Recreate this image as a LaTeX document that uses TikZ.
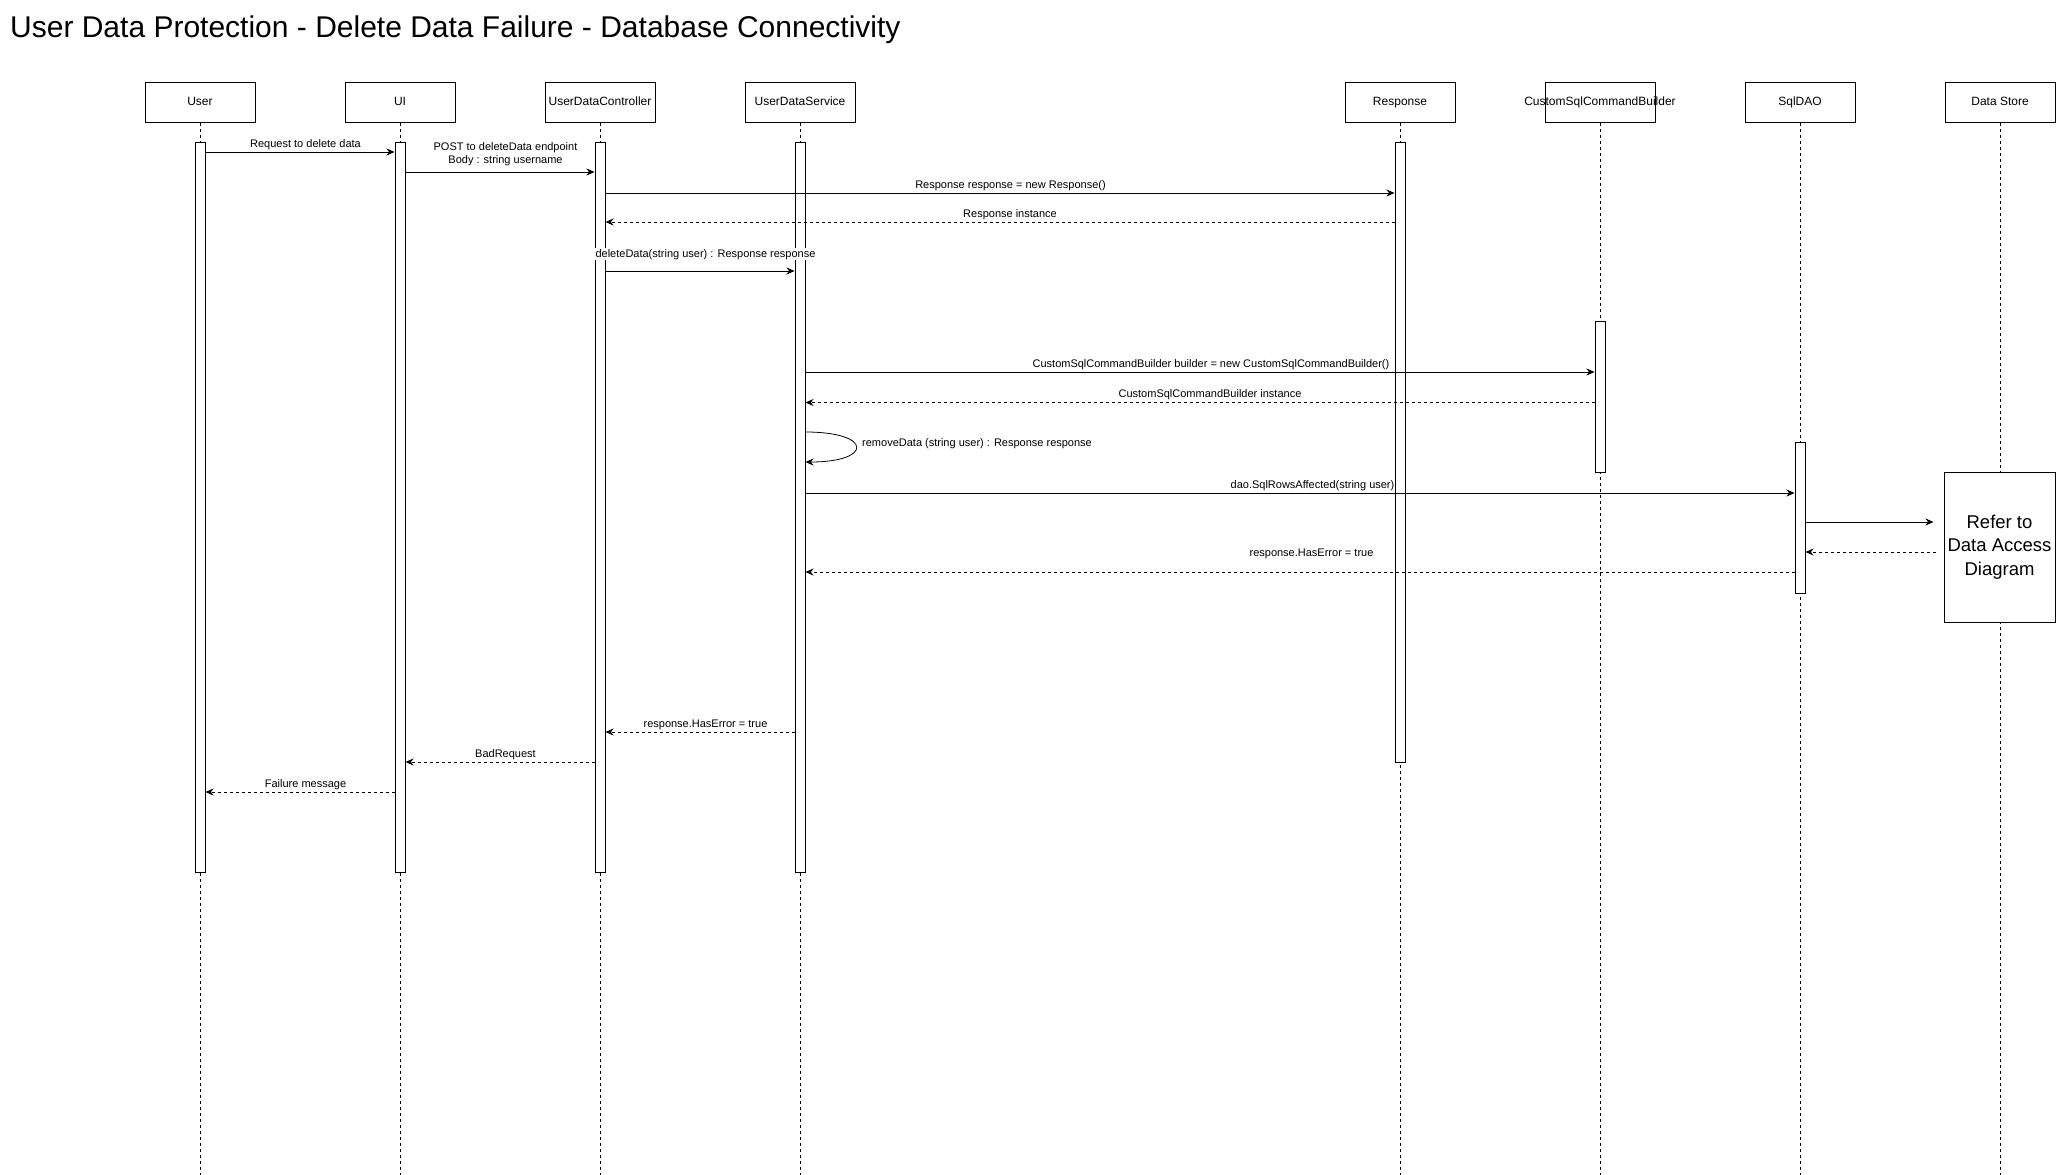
\documentclass[tikz,border=0pt]{standalone}
\usepackage{fontspec}
\setmainfont{Liberation Sans}
\usetikzlibrary{arrows.meta}

\tikzset{
  head/.style={draw, line width=1pt, minimum width=110pt, minimum height=40pt, inner sep=0pt, text height=9pt, text depth=2.5pt, font=\fontsize{12}{14}\selectfont},
  life/.style={line width=1pt, dash pattern=on 3pt off 3pt},
  bar/.style={draw, fill=white, line width=1pt, minimum width=10pt, inner sep=0pt},
  msg/.style={line width=1pt, -{Stealth[length=8pt,width=7pt]}},
  ret/.style={msg, dash pattern=on 3pt off 3pt},
  txt/.style={font=\fontsize{11}{13}\selectfont, inner sep=1pt},
  lbl/.style={txt, fill=white, midway, anchor=base, yshift=5pt, xshift=5.5pt},
}

\begin{document}
\begin{tikzpicture}[x=1pt, y=-1pt]
    \useasboundingbox (0,0) rectangle (2056,1175);
    \node[anchor=base west, inner sep=0pt, font=\fontsize{30}{34}\selectfont] (title) at (10,37) {User Data Protection - Delete Data Failure - Database Connectivity};

    % participants
    \node[head] (user) at (200,102) {User};
    \node[head] (ui) at (400,102) {UI};
    \node[head] (ctrl) at (600,102) {UserDataController};
    \node[head] (svc) at (800,102) {UserDataService};
    \node[head] (resp) at (1400,102) {Response};
    \node[head, label={[font=\fontsize{12}{14}\selectfont, inner sep=0pt]center:CustomSqlCommandBuilder}] (cscb) at (1600,102) {};
    \node[head] (dao) at (1800,102) {SqlDAO};
    \node[head] (store) at (2000,102) {Data Store};
    \coordinate (bottom) at (0,1175);

    % lifelines
    \draw[life] (user) -- (user |- bottom);
    \draw[life] (ui) -- (ui |- bottom);
    \draw[life] (ctrl) -- (ctrl |- bottom);
    \draw[life] (svc) -- (svc |- bottom);
    \draw[life] (resp) -- (resp |- bottom);
    \draw[life] (cscb) -- (cscb |- bottom);
    \draw[life] (dao) -- (dao |- bottom);
    \draw[life] (store) -- (store |- bottom);

    % activations
    \node[bar, minimum height=730pt] (userbar) at (200,507) {};
    \node[bar, minimum height=730pt] (uibar) at (400,507) {};
    \node[bar, minimum height=730pt] (ctrlbar) at (600,507) {};
    \node[bar, minimum height=730pt] (svcbar) at (800,507) {};
    \node[bar, minimum height=620pt] (respbar) at (1400,452) {};
    \node[bar, minimum height=151pt] (cscbbar) at (1600,396.5) {};
    \node[bar, minimum height=151pt] (daobar) at (1800,517.5) {};
    \node[draw, fill=white, line width=1pt, minimum width=111pt, minimum height=150pt, inner sep=0pt, align=center, font=\fontsize{18.5}{23.6}\selectfont] (ref) at (1999.5,547) {Refer to\\Data Access\\Diagram};

    % messages
    \draw[msg] (userbar.east |- 0,152) -- (uibar.west |- 0,152) node[lbl] {Request to delete data};
    \draw[msg] (uibar.east |- 0,172) -- (ctrlbar.west |- 0,172) node[txt, midway, xshift=5.5pt, yshift=18pt, align=center, fill=white] {POST to deleteData endpoint\\Body : string username};
    \draw[msg] (ctrlbar.east |- 0,193) -- (respbar.west |- 0,193) node[lbl, xshift=5pt] {Response response = new Response()};
    \draw[ret] (respbar.west |- 0,222) -- (ctrlbar.east |- 0,222) node[lbl, xshift=4.5pt] {Response instance};
    \draw[msg] (ctrlbar.east |- 0,271) -- (svcbar.west |- 0,271) node[lbl, yshift=9pt] {deleteData(string user) : Response response};
    \draw[msg] (svcbar.east |- 0,372) -- (cscbbar.west |- 0,372) node[lbl, xshift=5.5pt] {CustomSqlCommandBuilder builder = new CustomSqlCommandBuilder()};
    \draw[ret] (cscbbar.west |- 0,402.5) -- (svcbar.east |- 0,402.5) node[lbl, xshift=4.5pt] {CustomSqlCommandBuilder instance};
    \draw[msg, line width=0.8pt] (svcbar.east |- 0,432) .. controls (873,432) and (873,462) .. (svcbar.east |- 0,462);
    \node[txt, anchor=west] (selflbl) at (861,444) {removeData (string user) : Response response};
    \draw[msg] (svcbar.east |- 0,493) -- (daobar.west |- 0,493) node[lbl, xshift=7pt] {dao.SqlRowsAffected(string user)};
    \draw[msg, shorten >=10pt] (daobar.east |- 0,522) -- (ref.west |- 0,522);
    \draw[ret, shorten <=8pt] (ref.west |- 0,552) -- (daobar.east |- 0,552);
    \draw[ret] (daobar.west |- 0,572) -- (svcbar.east |- 0,572) node[lbl, xshift=6pt, yshift=11pt] {response.HasError = true};
    \draw[ret] (svcbar.west |- 0,732) -- (ctrlbar.east |- 0,732) node[lbl] {response.HasError = true};
    \draw[ret] (ctrlbar.west |- 0,762) -- (uibar.east |- 0,762) node[lbl] {BadRequest};
    \draw[ret] (uibar.west |- 0,792) -- (userbar.east |- 0,792) node[lbl] {Failure message};
\end{tikzpicture}
\end{document}
